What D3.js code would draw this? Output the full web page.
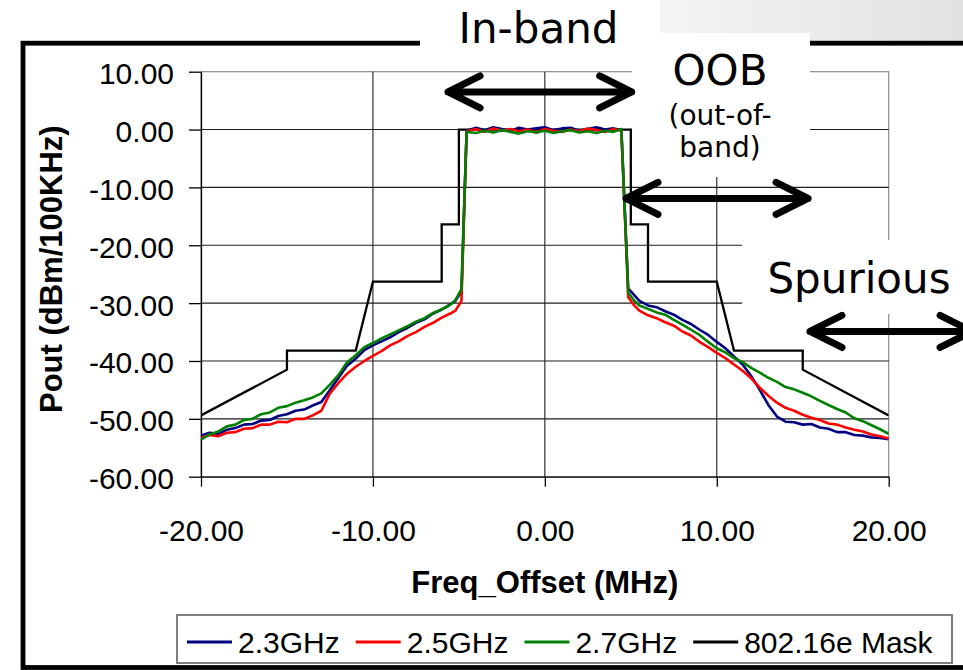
<!DOCTYPE html>
<html>
<head>
<meta charset="utf-8">
<script src="https://d3js.org/d3.v7.min.js"></script>
<style>
	body {margin: 0; background: #fff;}
	svg {display: block;}
</style>
</head>
<body>
<svg id="chart"></svg>
<script>

// frequency offset (MHz) shared by the three measured traces
var freqOffset = [-20, -19.5, -19, -18.5, -18, -17.5, -17, -16.5, -16, -15.5, -15, -14.5, -14, -13.5, -13, -12.5, -12, -11.5, -11, -10.5,
	-10, -9.5, -9, -8.5, -8, -7.5, -7, -6.5, -6, -5.5, -5.2, -4.85,
	-4.55, -4, -3.5, -3, -2.5, -2, -1.5, -1, -0.5, 0, 0.5, 1, 1.5, 2, 2.5, 3, 3.5, 4, 4.45,
	4.85, 5.2, 5.5, 6, 6.5, 7, 7.5, 8, 8.5, 9, 9.5, 10, 10.5, 11, 11.5, 12, 12.5, 13, 13.5, 14, 14.5, 15, 15.5,
	16, 16.5, 17, 17.5, 18, 18.5, 19, 19.5, 20];

// Pout (dBm/100KHz) for each carrier
var pout23 = [-52.9, -52.4, -52.6, -51.9, -51.6, -51.0, -50.9, -50.3, -50.2, -49.5, -49.2, -48.6, -48.4, -47.7, -47.1, -45.0, -42.9, -40.8, -39.6, -38.1,
	-37.3, -36.6, -35.9, -35.0, -34.3, -33.4, -32.8, -31.8, -31.1, -30.2, -29.6, -28.0,
	-0.2, 0.3, -0.1, 0.4, 0.1, -0.2, 0.3, 0.0, 0.2, 0.4, -0.1, 0.2, 0.3, -0.2, 0.1, 0.4, 0.0, 0.2, -0.1,
	-27.5, -28.6, -29.6, -30.4, -30.7, -31.4, -32.0, -32.9, -33.6, -34.6, -35.5, -36.7, -37.8, -39.2, -40.6, -42.6, -45.0, -47.6, -49.6, -50.5, -50.6, -51.0, -50.9,
	-51.5, -51.7, -52.3, -52.3, -52.8, -52.9, -53.2, -53.3, -53.5];

var pout25 = [-53.3, -52.8, -53.0, -52.4, -52.3, -51.7, -51.6, -51.0, -51.0, -50.5, -50.6, -50.0, -50.0, -49.4, -48.6, -45.6, -43.8, -42.2, -41.0, -40.0,
	-39.1, -38.3, -37.3, -36.6, -35.7, -35.0, -34.1, -33.4, -32.5, -31.8, -31.3, -29.6,
	-0.3, 0.1, -0.4, 0.2, -0.2, 0.1, -0.3, 0.0, -0.5, 0.1, -0.2, -0.4, 0.0, -0.3, 0.2, -0.1, -0.4, 0.1, -0.2,
	-29.0, -30.4, -31.3, -32.1, -32.6, -33.3, -33.9, -34.9, -35.6, -36.7, -37.6, -38.6, -39.5, -40.6, -41.7, -43.0, -44.6, -46.0, -47.2, -48.1, -48.6, -49.3, -49.8,
	-50.2, -50.8, -51.0, -51.5, -51.9, -52.2, -52.7, -53.0, -53.4];

var pout27 = [-53.6, -52.7, -52.2, -51.3, -51.0, -50.2, -50.0, -49.2, -48.9, -48.1, -47.8, -47.2, -46.8, -46.3, -45.6, -44.1, -42.4, -40.2, -39.0, -37.6,
	-36.9, -36.1, -35.4, -34.7, -34.0, -33.2, -32.6, -31.7, -31.1, -30.3, -29.5, -27.6,
	-0.4, -0.6, -0.2, -0.5, -0.1, -0.4, -0.7, -0.3, -0.5, -0.2, -0.6, -0.3, -0.1, -0.5, -0.3, -0.6, -0.2, -0.4, 0.1,
	-28.2, -29.6, -30.4, -31.0, -31.6, -32.0, -32.9, -33.7, -34.6, -35.5, -36.7, -37.8, -38.5, -39.5, -40.2, -41.2, -42.0, -42.9, -43.6, -44.5, -44.9, -45.5, -46.1,
	-46.9, -47.6, -48.3, -48.9, -49.9, -50.4, -51.1, -51.8, -52.6];

// 802.16e spectral mask corners
var maskFreq = [-20, -15, -15, -11, -10, -6, -6, -5, -5, 5, 5, 6, 6, 10, 11, 15, 15, 20];
var maskPout = [-49.4, -41.5, -38.2, -38.2, -26.3, -26.3, -16.4, -16.4, 0, 0, -16.4, -16.4, -26.3, -26.3, -38.2, -38.2, -41.5, -49.4];

var xTicks = [-20, -10, 0, 10, 20];
var yTicks = [10, 0, -10, -20, -30, -40, -50, -60];
var seriesNames = ["2.3GHz", "2.5GHz", "2.7GHz", "802.16e Mask"];
var seriesColors = ["#000080", "#ff0000", "#008000", "#000000"];

window.onload = function() {

	var svgDims = {width: 963, height: 670};
	var plot = {left: 201, right: 888.7, top: 71.7, bottom: 476.7};
	var axisFont = "'Liberation Sans', Arial, sans-serif";
	var noteFont = "'DejaVu Sans', Verdana, sans-serif";

	var svg = d3.select("#chart")
		.attr("width", svgDims.width)
		.attr("height", svgDims.height);

	var x = d3.scaleLinear().domain([-20, 20]).range([plot.left, plot.right]);
	var y = d3.scaleLinear().domain([-60, 10]).range([plot.bottom, plot.top]);
	var fmt = function(d) { return d.toFixed(2); };

	// plot area border + gridlines
	svg.append("rect")
		.attr("x", x(-20)).attr("y", y(10))
		.attr("width", x(20) - x(-20)).attr("height", y(-60) - y(10))
		.attr("fill", "none").attr("stroke", "#8c8c8c").attr("stroke-width", 1.2);

	var grid = svg.append("g").attr("class", "grid");
	grid.selectAll(".hgrid")
		.data(yTicks.filter(function(d) { return d < 10 && d > -60; }))
		.enter().append("line")
			.attr("x1", x(-20)).attr("x2", x(20))
			.attr("y1", function(d) { return y(d); })
			.attr("y2", function(d) { return y(d); })
			.attr("stroke", "#1e1e1e").attr("stroke-width", 1.1);
	grid.selectAll(".vgrid")
		.data(xTicks.filter(function(d) { return d > -20 && d < 20; }))
		.enter().append("line")
			.attr("x1", function(d) { return x(d); })
			.attr("x2", function(d) { return x(d); })
			.attr("y1", y(10)).attr("y2", y(-60))
			.attr("stroke", "#1e1e1e").attr("stroke-width", 1.1);

	// axes
	var yAxis = svg.append("g")
		.attr("transform", "translate(" + x(-20) + ",0)")
		.call(d3.axisLeft(y).tickValues(yTicks).tickSize(12).tickSizeOuter(0).tickPadding(15).tickFormat(fmt));
	var xAxis = svg.append("g")
		.attr("transform", "translate(0," + y(-60) + ")")
		.call(d3.axisBottom(x).tickValues(xTicks).tickSize(10).tickSizeOuter(0).tickPadding(33).tickFormat(fmt));

	[yAxis, xAxis].forEach(function(ax) {
		ax.attr("font-family", axisFont).attr("font-size", 30);
		ax.select(".domain").attr("stroke", "#000").attr("stroke-width", 1.3);
		ax.selectAll(".tick line").attr("stroke", "#000").attr("stroke-width", 1.3);
		ax.selectAll(".tick text").attr("fill", "#000");
	});
	yAxis.selectAll(".tick text").attr("dy", "0.40em");

	// axis titles
	svg.append("text")
		.attr("x", x(0)).attr("y", 593)
		.attr("text-anchor", "middle")
		.attr("font-family", axisFont).attr("font-size", 31).attr("font-weight", "bold")
		.text("Freq_Offset (MHz)");
	svg.append("text")
		.attr("transform", "translate(62," + ((y(10) + y(-60)) / 2 - 5) + ") rotate(-90)")
		.attr("text-anchor", "middle")
		.attr("font-family", axisFont).attr("font-size", 31).attr("font-weight", "bold")
		.text("Pout (dBm/100KHz)");

	// series
	svg.append("clipPath").attr("id", "plot-clip")
		.append("rect")
			.attr("x", x(-20)).attr("y", y(10))
			.attr("width", x(20) - x(-20)).attr("height", y(-60) - y(10));

	var line = d3.line()
		.x(function(d) { return x(d[0]); })
		.y(function(d) { return y(d[1]); });

	var series = svg.append("g").attr("clip-path", "url(#plot-clip)");

	series.append("path")
		.datum(d3.zip(maskFreq, maskPout))
		.attr("fill", "none").attr("stroke", seriesColors[3]).attr("stroke-width", 2.3)
		.attr("d", line);

	[pout23, pout25, pout27].forEach(function(vals, i) {
		series.append("path")
			.datum(d3.zip(freqOffset, vals))
			.attr("fill", "none")
			.attr("stroke", seriesColors[i])
			.attr("stroke-width", 2.6)
			.attr("stroke-linejoin", "round")
			.attr("d", line);
	});

	// legend
	var legend = svg.append("g").attr("class", "legend");
	legend.append("rect")
		.attr("x", 177).attr("y", 615).attr("width", 775).attr("height", 48)
		.attr("fill", "#fff").attr("stroke", "#7f7f7f").attr("stroke-width", 2);

	var lx = 187;
	seriesNames.forEach(function(name, i) {
		legend.append("line")
			.attr("x1", lx).attr("x2", lx + 45)
			.attr("y1", 642).attr("y2", 642)
			.attr("stroke", seriesColors[i]).attr("stroke-width", 3);
		var t = legend.append("text")
			.attr("x", lx + 51).attr("y", 653)
			.attr("font-family", axisFont).attr("font-size", 30)
			.text(name);
		lx = lx + 51 + t.node().getComputedTextLength() + 16;
	});

	// slide decoration round the chart
	var defs = svg.append("defs");
	var grad = defs.append("linearGradient").attr("id", "header-grad");
	grad.append("stop").attr("offset", "0%").attr("stop-color", "#f4f4f4");
	grad.append("stop").attr("offset", "100%").attr("stop-color", "#e2e2e2");

	svg.append("rect")
		.attr("x", 660).attr("y", 0).attr("width", 303).attr("height", 41)
		.attr("fill", "url(#header-grad)");

	svg.append("rect")
		.attr("x", 23).attr("y", 43.2).attr("width", 1000).attr("height", 624.3)
		.attr("fill", "none").attr("stroke", "#000").attr("stroke-width", 4.8);

	// white label boxes
	var boxes = [
		{x: 420, y: 0, w: 212, h: 60},
		{x: 632, y: 33, w: 178, h: 144},
		{x: 742, y: 240, w: 230, h: 74}
	];
	svg.selectAll(".note-box")
		.data(boxes)
		.enter().append("rect")
			.attr("class", "note-box")
			.attr("x", function(d) { return d.x; })
			.attr("y", function(d) { return d.y; })
			.attr("width", function(d) { return d.w; })
			.attr("height", function(d) { return d.h; })
			.attr("fill", "#fff");

	// double headed arrows, placed in chart units
	var arrows = [
		{f1: -5.63, f2: 5.05, v: 6.5},
		{f1: 4.72, f2: 15.31, v: -11.9},
		{f1: 15.42, f2: 24.85, v: -34.9}
	];
	svg.selectAll(".note-arrow")
		.data(arrows)
		.enter().append("path")
			.attr("class", "note-arrow")
			.attr("fill", "none").attr("stroke", "#000").attr("stroke-width", 7)
			.attr("stroke-linecap", "round").attr("stroke-linejoin", "round")
			.attr("d", function(d) {
				var a = x(d.f1), b = x(d.f2), c = y(d.v);
				return "M" + (a + 32) + "," + (c - 16) + "L" + a + "," + c + "L" + (a + 32) + "," + (c + 16)
					+ "M" + a + "," + c + "L" + b + "," + c
					+ "M" + (b - 32) + "," + (c - 16) + "L" + b + "," + c + "L" + (b - 32) + "," + (c + 16);
			});

	var notes = [
		{text: "In-band", x: 538.5, y: 43, size: 42},
		{text: "OOB", x: 720, y: 85, size: 42},
		{text: "(out-of-", x: 720, y: 125, size: 28},
		{text: "band)", x: 720, y: 157, size: 28},
		{text: "Spurious", x: 859, y: 293, size: 42}
	];
	svg.selectAll(".note")
		.data(notes)
		.enter().append("text")
			.attr("class", "note")
			.attr("x", function(d) { return d.x; })
			.attr("y", function(d) { return d.y; })
			.attr("text-anchor", "middle")
			.attr("font-family", noteFont)
			.attr("font-size", function(d) { return d.size; })
			.attr("fill", "#000")
			.text(function(d) { return d.text; });
};
</script>
</body>
</html>
